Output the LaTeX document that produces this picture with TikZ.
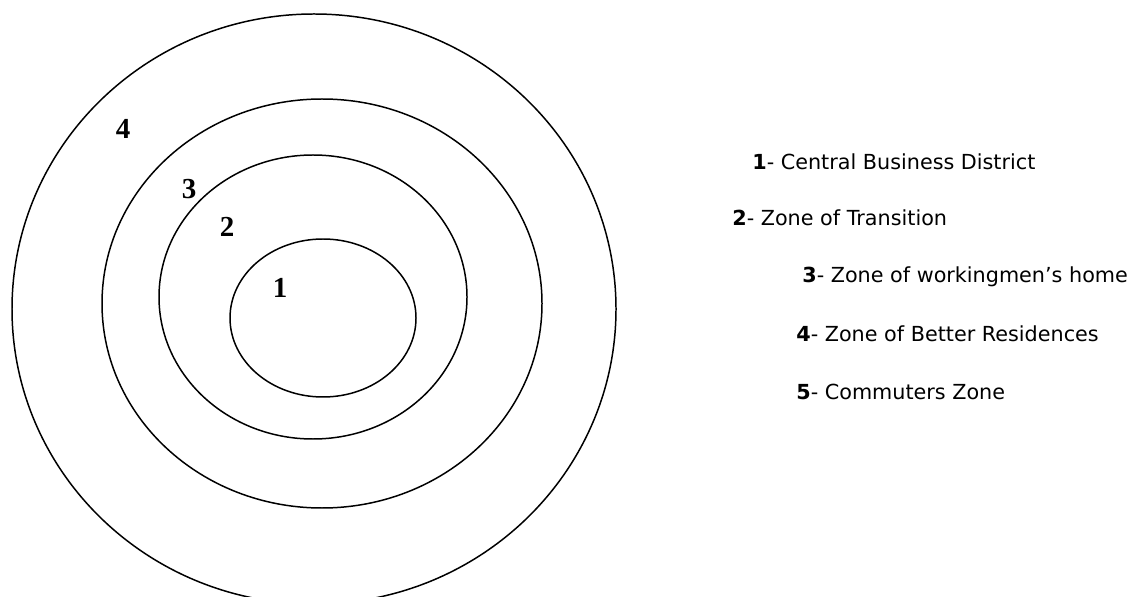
\documentclass[tikz,border=0pt]{standalone}
\usepackage{fontspec}
\setmainfont{Liberation Serif}
\newfontfamily\keyfont{DejaVu Sans}

\begin{document}
\begin{tikzpicture}[
  x=0.02cm, y=-0.02cm,
  ring/.style={draw, line width=0.85pt},
  zone/.style={font=\fontsize{16.5}{18}\selectfont\bfseries, inner sep=0pt},
  key/.style={anchor=west, font=\keyfont\fontsize{11.8}{13}\selectfont, inner sep=0pt}]
\useasboundingbox (0,0) rectangle (1138,597);
% concentric zones
\draw[ring] (314,309) ellipse [x radius=302, y radius=295];
\draw[ring] (322,303.5) ellipse [x radius=220, y radius=204.5];
\draw[ring] (313,297) ellipse [x radius=154, y radius=142];
\draw[ring] (323,318) ellipse [x radius=93, y radius=79];
% zone numbers
\node[zone] (z4) at (123,129) {4};
\node[zone] (z3) at (189,189) {3};
\node[zone] (z2) at (227,227) {2};
\node[zone] (z1) at (280,288) {1};
% key
\node[key] (k1) at (752,162) {\textbf{1}- Central Business District};
\node[key] (k2) at (732,218) {\textbf{2}- Zone of Transition};
\node[key] (k3) at (802,277) {\textbf{3}- Zone of workingmen’s home};
\node[key] (k4) at (796,334) {\textbf{4}- Zone of Better Residences};
\node[key] (k5) at (796,392) {\textbf{5}- Commuters Zone};
\end{tikzpicture}
\end{document}
